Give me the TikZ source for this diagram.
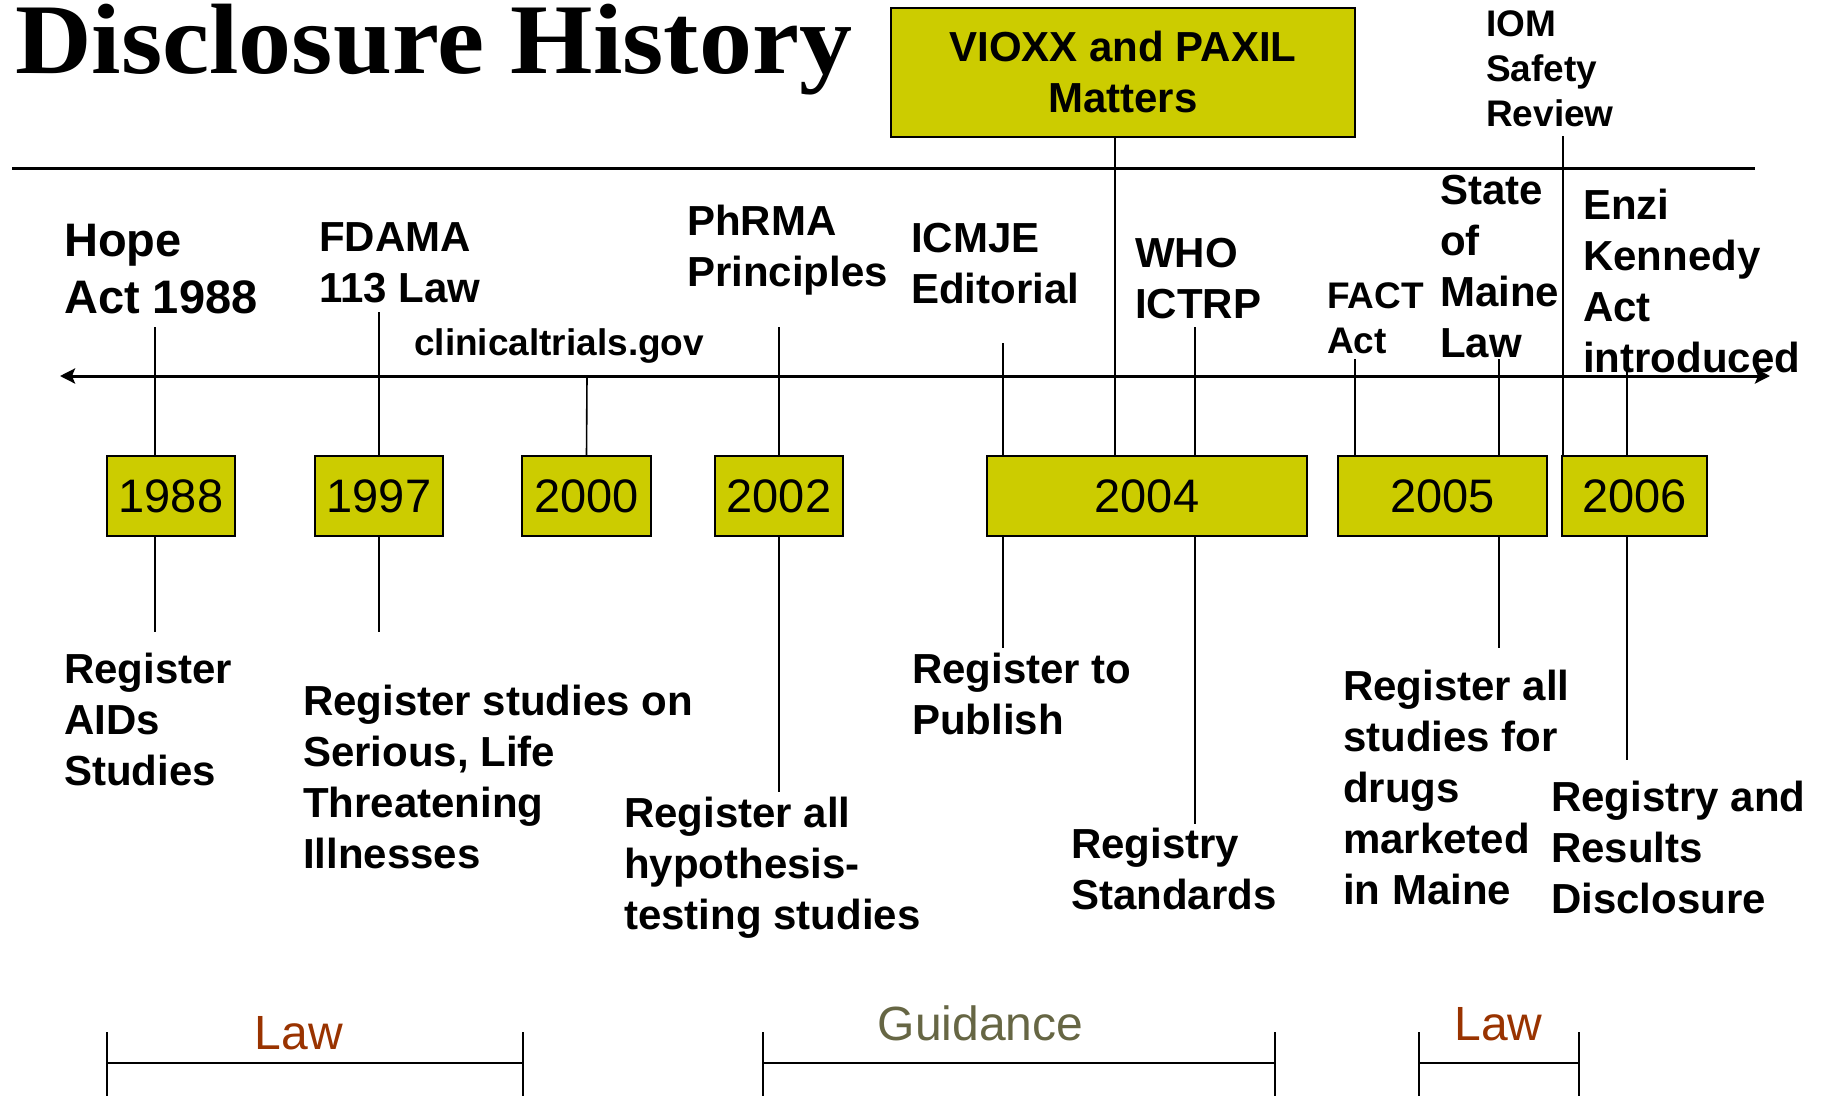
\documentclass[tikz,border=0pt]{standalone}
\usepackage{fontspec}
\setmainfont{Liberation Sans}
\newfontfamily\titlefont{Liberation Serif}
\usepackage{xcolor}
\usepackage{tikz}
\usetikzlibrary{arrows.meta, positioning}

\definecolor{yearfill}{HTML}{CCCC00}
\definecolor{lawcol}{HTML}{993300}
\definecolor{guidcol}{HTML}{666644}

\begin{document}
\begin{tikzpicture}[
      x=1pt, y=-1pt,
      >={Stealth[length=15pt, width=15pt, inset=3pt]},
      year/.style={draw, line width=2pt, fill=yearfill, inner sep=0pt,
        minimum height=80pt, font=\fontsize{47}{56}\selectfont},
      event/.style={anchor=base west, align=left, inner sep=0pt,
        font=\fontsize{42}{51}\selectfont\bfseries},
      small event/.style={event, font=\fontsize{37}{45}\selectfont\bfseries},
      span label/.style={anchor=base, inner sep=0pt,
        font=\fontsize{48}{56}\selectfont},
      stem/.style={line width=1.6pt},
      span/.style={line width=2.5pt},
    ]
    \useasboundingbox (0,0) rectangle (1826,1096);

    \node[anchor=base west, inner sep=0pt,
      font=\titlefont\fontsize{100}{120}\selectfont\bfseries]
      (title) at (15,73) {\scalebox{1.06}[1]{Disclosure History}};

    % rule and time axis
    \coordinate (rl) at (12,168);
    \coordinate (rr) at (1755,168);
    \draw[line width=3pt] (rl) -- (rr);
    \coordinate (tl) at (60,376);
    \coordinate (tr) at (1770,376);
    \draw[<->, line width=3pt] (tl) -- (tr);

    % year boxes
    \node[year, minimum width=128pt] (y88) at (171,496) {1988};
    \node[year, minimum width=128pt] (y97) at (379,496) {1997};
    \node[year, minimum width=129pt] (y00) at (586.5,496) {2000};
    \node[year, minimum width=128pt] (y02) at (779,496) {2002};
    \node[year, minimum width=320pt] (y04) at (1147,496) {2004};
    \node[year, minimum width=209pt] (y05) at (1442.5,496) {2005};
    \node[year, minimum width=145pt] (y06) at (1634.5,496) {2006};

    \node[draw, line width=2pt, fill=yearfill, inner sep=0pt,
      minimum width=464pt, minimum height=129pt, align=center,
      font=\fontsize{42}{51}\selectfont\bfseries]
      (vioxx) at (1123,72) {VIOXX and PAXIL\\Matters};

    % events above the axis (placed by the baseline of their last line)
    \node[event, font=\fontsize{47}{57}\selectfont\bfseries]
      (hope) at (64,313) {Hope\\Act 1988};
    \node[event] (fdama) at (319,302) {FDAMA\\113 Law};
    \node[small event] (ctgov) at (414,355) {clinicaltrials.gov};
    \node[event] (phrma) at (687,286) {PhRMA\\Principles};
    \node[event] (icmje) at (911,303) {ICMJE\\Editorial};
    \node[event] (who) at (1135,318) {WHO\\ICTRP};
    \node[small event] (fact) at (1327,353) {FACT\\Act};
    \node[event] (maine) at (1440,357) {State\\of\\Maine\\Law};
    \node[event] (enzi) at (1583,372) {Enzi\\Kennedy\\Act\\introduced};
    \node[small event] (iom) at (1486,126) {IOM\\Safety\\Review};

    % what each one asks for
    \node[event] (aids) at (64,785) {Register\\AIDs\\Studies};
    \node[event] (serious) at (303,868)
      {Register studies on\\Serious, Life\\Threatening\\Illnesses};
    \node[event] (hypo) at (624,929)
      {Register all\\hypothesis-\\testing studies};
    \node[event] (publish) at (912,734) {Register to\\Publish};
    \node[event] (standards) at (1071,909) {Registry\\Standards};
    \node[event] (drugs) at (1343,904)
      {Register all\\studies for\\drugs\\marketed\\in Maine};
    \node[event] (results) at (1551,913)
      {Registry and\\Results\\Disclosure};

    % stems
    \coordinate (s88) at (155,327);   \coordinate (e88) at (155,632);
    \coordinate (s97) at (379,312);   \coordinate (e97) at (379,632);
    \coordinate (s00) at (587,376);
    \coordinate (s02) at (779,327);   \coordinate (e02) at (779,792);
    \coordinate (s04a) at (1003,343); \coordinate (e04a) at (1003,648);
    \coordinate (s04b) at (1115,136);
    \coordinate (s04c) at (1195,327); \coordinate (e04c) at (1195,824);
    \coordinate (s05a) at (1355,359);
    \coordinate (s05b) at (1499,359); \coordinate (e05b) at (1499,648);
    \coordinate (s06a) at (1563,136);
    \coordinate (s06b) at (1627,368); \coordinate (e06b) at (1627,760);

    \draw[stem] (s88) -- (s88 |- y88.north) (y88.south -| e88) -- (e88);
    \draw[stem] (s97) -- (y97.north) (y97.south) -- (e97);
    \draw[stem] (s00) -- (y00.north);
    \draw[stem] (s02) -- (y02.north) (y02.south) -- (e02);
    \draw[stem] (s04a) -- (s04a |- y04.north) (y04.south -| e04a) -- (e04a);
    \draw[stem] (s04b) -- (s04b |- y04.north);
    \draw[stem] (s04c) -- (s04c |- y04.north) (y04.south -| e04c) -- (e04c);
    \draw[stem] (s05a) -- (s05a |- y05.north);
    \draw[stem] (s05b) -- (s05b |- y05.north) (y05.south -| e05b) -- (e05b);
    \draw[stem] (s06a) -- (s06a |- y06.north);
    \draw[stem] (s06b) -- (s06b |- y06.north) (y06.south -| e06b) -- (e06b);

    % law / guidance spans
    \coordinate (floor) at (0,1096);
    \coordinate (mid) at (0,1063);
    \coordinate (la) at (107,1032);  \coordinate (lb) at (523,1032);
    \coordinate (ga) at (763,1032);  \coordinate (gb) at (1275,1032);
    \coordinate (ma) at (1419,1032); \coordinate (mb) at (1579,1032);
    \draw[span] (la) -- (la |- floor) (lb) -- (lb |- floor)
      (la |- mid) -- (lb |- mid);
    \draw[span] (ga) -- (ga |- floor) (gb) -- (gb |- floor)
      (ga |- mid) -- (gb |- mid);
    \draw[span] (ma) -- (ma |- floor) (mb) -- (mb |- floor)
      (ma |- mid) -- (mb |- mid);

    \node[span label, text=lawcol] (law1) at (299,1049) {Law};
    \node[span label, text=guidcol] (guid) at (980.5,1040) {Guidance};
    \node[span label, text=lawcol] (law2) at (1498.5,1040) {Law};

  \end{tikzpicture}
\end{document}
